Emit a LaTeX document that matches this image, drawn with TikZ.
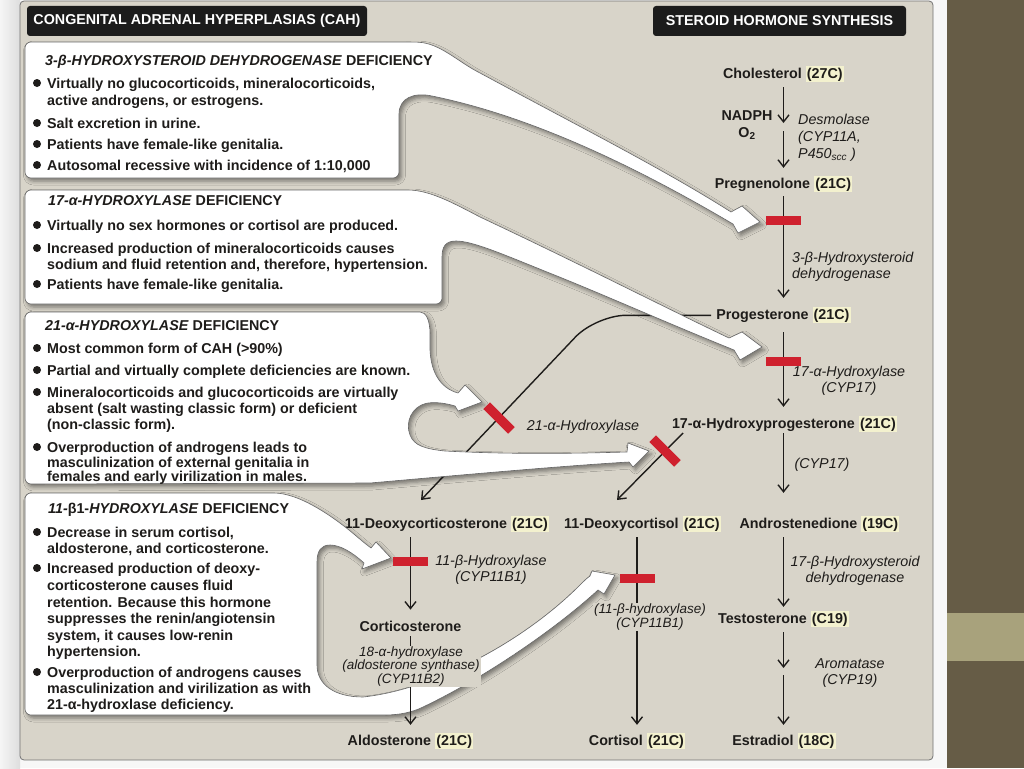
\documentclass[tikz,border=0pt]{standalone}
\usepackage{fontspec}
\setmainfont{Liberation Sans}
\usetikzlibrary{arrows.meta,shadows.blur}

\definecolor{panel}{RGB}{216,212,201}
\definecolor{ink}{RGB}{30,28,26}
\definecolor{stopred}{RGB}{207,33,46}
\definecolor{hlcol}{RGB}{243,241,206}
\definecolor{strip}{RGB}{102,92,70}
\definecolor{stripband}{RGB}{168,162,124}
\definecolor{headbg}{RGB}{28,28,28}

\newcommand{\hl}[1]{{\setlength{\fboxsep}{1.2pt}\colorbox{hlcol}{#1}}}

\begin{document}
\begin{tikzpicture}[x=1pt, y=-1pt,
  >={Straight Barb[length=7pt,width=11pt]},
  hd/.style={fill=headbg, text=white, font=\fontsize{14.3}{16}\selectfont\bfseries, rounded corners=3pt, inner sep=0pt, minimum height=30pt},
  txt/.style={anchor=base west, inner sep=0pt, text=ink, font=\fontsize{14.3}{16}\selectfont\bfseries},
  mol/.style={anchor=base, inner sep=0pt, text=ink, font=\fontsize{14.3}{16}\selectfont\bfseries},
  enz/.style={anchor=base, align=center, inner sep=0pt, text=ink, font=\fontsize{14.3}{16}\selectfont\itshape},
  enzl/.style={enz, anchor=base west, align=left},
  enzs/.style={anchor=base, align=center, inner sep=1pt, fill=panel, text=ink, font=\fontsize{13.5}{13.2}\selectfont\itshape},
  rxn/.style={->, draw=ink, line width=1.4pt},
  bubble/.style={fill=white, draw=black!60, line width=0.6pt, blur shadow={shadow xshift=2.5pt, shadow yshift=-3pt, shadow blur radius=4pt, shadow opacity=45}},
  stopbar/.style={fill=stopred, minimum width=35pt, minimum height=9.5pt, inner sep=0pt},
]
\useasboundingbox (0,0) rectangle (1024,768);
% page and panel
\fill[black!3] (0,0) rectangle (1024,768);
\shade[left color=black!4, right color=black!13] (0,0) rectangle (20,768);
\fill[strip] (947,0) rectangle (1024,768);
\fill[stripband] (947,613) rectangle (1024,661);
\filldraw[fill=panel, draw=black!55, line width=0.8pt, rounded corners=4pt] (20,1) rectangle (933,760);

\node[hd, minimum width=340pt] (cah) at (197,21) {CONGENITAL ADRENAL HYPERPLASIAS (CAH)};
\node[hd, minimum width=253pt] (shs) at (779.5,21) {STEROID HORMONE SYNTHESIS};

% pathway (multi-line nodes sit on their last line)
\node[mol] (chol) at (783.5,78) {Cholesterol \hl{(27C)}};
\node[mol] (nadph) at (747,120) {NADPH};
\node[mol] (otwo) at (747,137) {O\textsubscript{2}};
\node[enzl, font=\fontsize{14.3}{17}\selectfont\itshape] (desmo) at (798,158) {Desmolase\\(CYP11A,\\P450\textsubscript{scc} )};
\node[mol] (preg) at (783.5,188) {Pregnenolone \hl{(21C)}};
\node[enzl] (hsd3) at (792,278) {3-β-Hydroxysteroid\\dehydrogenase};
\node[mol] (prog) at (783.5,319) {Progesterone \hl{(21C)}};
\node[enz] (cyp17a) at (849,392) {17-α-Hydroxylase\\(CYP17)};
\node[mol] (ohp) at (784.5,428) {17-α-Hydroxyprogesterone \hl{(21C)}};
\node[enz] (cyp17b) at (822,468) {(CYP17)};
\node[enz] (cyp21) at (583,430) {21-α-Hydroxylase};
\node[mol] (doc) at (447,528) {11-Deoxycorticosterone \hl{(21C)}};
\node[mol] (dcort) at (642.5,528) {11-Deoxycortisol \hl{(21C)}};
\node[mol] (andro) at (819.5,528) {Androstenedione \hl{(19C)}};
\node[enz] (cyp11a) at (491,581) {11-β-Hydroxylase\\(CYP11B1)};
\node[enz] (hsd17) at (855,582) {17-β-Hydroxysteroid\\dehydrogenase};
\node[mol] (testo) at (783.5,623) {Testosterone \hl{(C19)}};
\node[mol] (corti) at (410.5,631) {Corticosterone};
\node[enz] (arom) at (850,684) {Aromatase\\(CYP19)};
\node[mol] (aldo) at (410.5,745) {Aldosterone \hl{(21C)}};
\node[mol] (cortisol) at (637,745) {Cortisol \hl{(21C)}};
\node[mol] (estr) at (784,745) {Estradiol \hl{(18C)}};

\coordinate (colR) at (783.5,0);
\coordinate (colL) at (410.5,0);
\coordinate (colM) at (637,0);
\coordinate (m1) at (783.5,127);
\coordinate (m2) at (783.5,671.5);
\coordinate (k21) at (596,315.3);
\coordinate (e21) at (421,500);
\coordinate (s17) at (683,433);
\coordinate (e17) at (617,500);

\draw[rxn, shorten <=4.8pt, shorten >=4pt] (chol.south -| colR) -- (m1);
\draw[rxn, shorten <=4pt, shorten >=8.4pt] (m1) -- (preg.north -| colR);
\draw[rxn, shorten <=3.8pt, shorten >=9.4pt] (preg.south -| colR) -- (prog.north -| colR);
\draw[rxn, shorten <=8.8pt, shorten >=9.4pt] (prog.south -| colR) -- (ohp.north -| colR);
\draw[rxn, shorten <=1pt, shorten >=23.4pt] (ohp.south -| colR) -- (andro.north -| colR);
\draw[rxn, shorten <=4.8pt, shorten >=4.4pt] (andro.south -| colR) -- (testo.north -| colR);
\draw[rxn, shorten <=4.8pt, shorten >=3.5pt] (testo.south -| colR) -- (m2);
\draw[rxn, shorten <=3.5pt, shorten >=8.4pt] (m2) -- (estr.north -| colR);
\draw[rxn, shorten <=4.8pt, shorten >=10.8pt] (doc.south -| colL) -- (corti.north -| colL);
\draw[rxn, shorten <=4.8pt, shorten >=8.4pt] (dcort.south -| colM) -- (cortisol.north -| colM);
\draw[rxn, rounded corners=30pt, shorten <=5pt] (prog.west) -- (k21) -- (e21);
\draw[rxn] (s17) -- (e17);

% deficiency boxes
\path[bubble] (25,110) [rounded corners=6pt] -- (25,42) -- (412,42) [sharp corners]
  .. controls (440,43) and (458,62) .. (480,73) .. controls (580,127) and (665,170) .. (731,212)
  -- (742,206) -- (760,222) -- (738,233) -- (733,224)
  .. controls (650,175) and (540,118) .. (432,96) .. controls (414,92) and (399,98) .. (399,114)
  [rounded corners=6pt] -- (399,178) -- (25,178) -- cycle;
\path[bubble] (25,250) [rounded corners=6pt] -- (25,190) -- (402,190) [sharp corners]
  .. controls (430,190) and (455,204) .. (480,217) .. controls (580,264) and (670,310) .. (729,338)
  -- (742,332) -- (762,347) -- (740,360) -- (734,350)
  .. controls (660,320) and (600,293) .. (547,272) .. controls (500,253) and (472,241) .. (456,241)
  .. controls (446,241) and (442,246) .. (442,257) [rounded corners=6pt] -- (442,304) -- (25,304) -- cycle;
\path[bubble] (25,400) [rounded corners=6pt] -- (25,312) -- (414,312) [sharp corners]
  .. controls (426,312) and (430,320) .. (430,334) -- (430,350)
  .. controls (431,372) and (440,388) .. (458,393) -- (465,385) -- (482,402) -- (458,411) -- (455,406)
  .. controls (445,403) and (436,402) .. (428,403) .. controls (411,406) and (405,423) .. (410,435)
  .. controls (414,446) and (426,449) .. (445,451) .. controls (520,455) and (590,453) .. (627,452)
  -- (628,443) -- (649,451) -- (633,467) -- (629,462)
  .. controls (560,466) and (450,476) .. (370,483) [rounded corners=6pt] -- (25,484) -- cycle;
\path[bubble] (25,600) [rounded corners=6pt] -- (25,493) -- (268,493) [sharp corners]
  .. controls (300,493) and (335,518) .. (355,535) .. controls (362,541) and (367,545) .. (371,548)
  -- (376,542) -- (391,558) -- (362,569) -- (364,563)
  .. controls (352,552) and (340,545) .. (330,545) .. controls (321,545) and (317,551) .. (317,562)
  -- (317,665) .. controls (317,685) and (335,697) .. (363,697)
  .. controls (430,690) and (520,645) .. (580,585) .. controls (584,581) and (587,578) .. (590,576)
  -- (592,571) -- (615,575) -- (604,594) -- (598,590)
  .. controls (560,625) and (490,675) .. (423,707) .. controls (413,712) and (400,715) .. (385,715)
  [rounded corners=6pt] -- (25,715) -- cycle;

\node[txt] (ha) at (45,65) {\textit{3-β-HYDROXYSTEROID DEHYDROGENASE} DEFICIENCY};
\foreach \y/\b/\t [count=\i] in {
  88/1/{Virtually no glucocorticoids, mineralocorticoids,},
  105/0/{active androgens, or estrogens.},
  128/1/{Salt excretion in urine.},
  149/1/{Patients have female-like genitalia.},
  170/1/{Autosomal recessive with incidence of 1:10,000}}
  {\node[txt] (ta\i) at (47,\y) {\t};
   \ifnum\b=1 \fill[ink] (37,\y-5) circle (4pt);\fi}

\node[txt] (hb) at (48,205) {\textit{17-α-HYDROXYLASE} DEFICIENCY};
\foreach \y/\b/\t [count=\i] in {
  230/1/{Virtually no sex hormones or cortisol are produced.},
  253/1/{Increased production of mineralocorticoids causes},
  269/0/{sodium and fluid retention and, therefore, hypertension.},
  289/1/{Patients have female-like genitalia.}}
  {\node[txt] (tb\i) at (47,\y) {\t};
   \ifnum\b=1 \fill[ink] (37,\y-5) circle (4pt);\fi}

\node[txt] (hc) at (45,330) {\textit{21-α-HYDROXYLASE} DEFICIENCY};
\foreach \y/\b/\t [count=\i] in {
  353/1/{Most common form of CAH (>90\%)},
  375/1/{Partial and virtually complete deficiencies are known.},
  397/1/{Mineralocorticoids and glucocorticoids are virtually},
  413/0/{absent (salt wasting classic form) or deficient},
  429/0/{(non-classic form).},
  452/1/{Overproduction of androgens leads to},
  467/0/{masculinization of external genitalia in},
  481/0/{females and early virilization in males.}}
  {\node[txt] (tc\i) at (47,\y) {\t};
   \ifnum\b=1 \fill[ink] (37,\y-5) circle (4pt);\fi}

\node[txt] (hd) at (48,513) {\textit{11-}β1-\textit{HYDROXYLASE} DEFICIENCY};
\foreach \y/\b/\t [count=\i] in {
  537/1/{Decrease in serum cortisol,},
  553/0/{aldosterone, and corticosterone.},
  573/1/{Increased production of deoxy-},
  590/0/{corticosterone causes fluid},
  607/0/{retention. Because this hormone},
  623/0/{suppresses the renin/angiotensin},
  640/0/{system, it causes low-renin},
  656/0/{hypertension.},
  677/1/{Overproduction of androgens causes},
  693/0/{masculinization and virilization as with},
  709/0/{21-α-hydroxlase deficiency.}}
  {\node[txt] (td\i) at (47,\y) {\t};
   \ifnum\b=1 \fill[ink] (37,\y-5) circle (4pt);\fi}

% drawn over the boxes
\draw[rxn, shorten <=5pt, shorten >=8.4pt] (corti.south -| colL) -- (aldo.north -| colL);
\node[enzs] (cyp11c) at (650,627) {(11-β-hydroxylase)\\(CYP11B1)};
\node[enzs] (cyp11b2) at (411,683) {18-α-hydroxylase\\(aldosterone synthase)\\(CYP11B2)};

\node[stopbar] (x3b) at (783.5,220.5) {};
\node[stopbar] (x17) at (783.5,361.5) {};
\node[stopbar, rotate=-45] (x21) at (499,418) {};
\node[stopbar, rotate=-45] (x17b) at (665,451) {};
\node[stopbar] (x11) at (410.5,561.5) {};
\node[stopbar] (x11b) at (637.5,578.5) {};
\end{tikzpicture}
\end{document}
